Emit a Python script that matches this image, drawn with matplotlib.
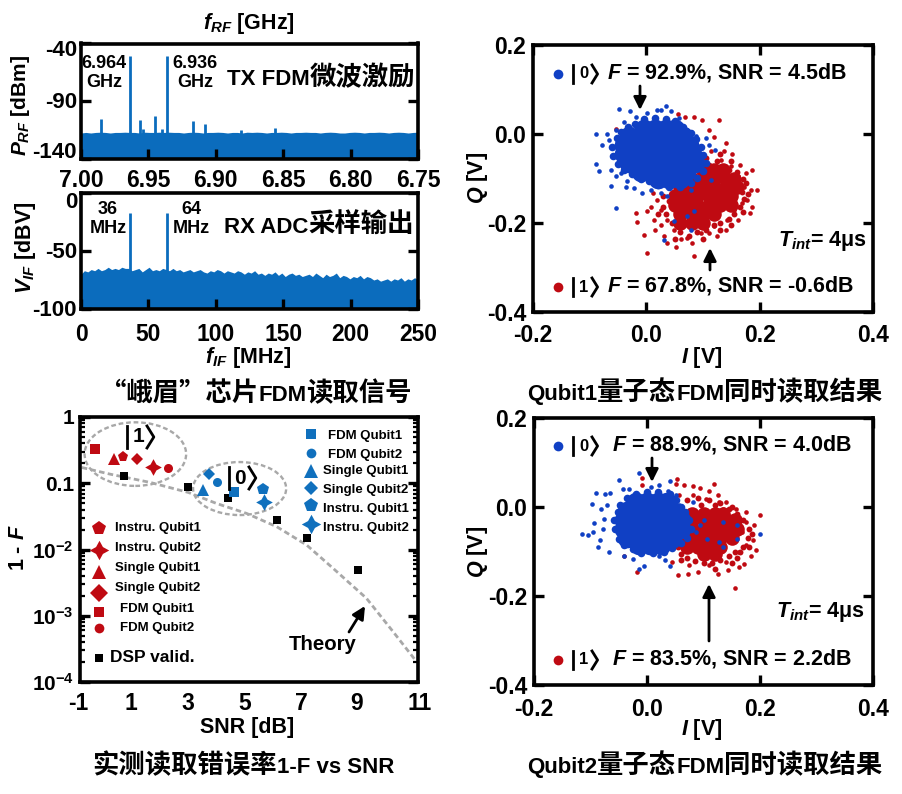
import re
import numpy as np
import matplotlib
matplotlib.use('Agg')
import matplotlib.pyplot as plt
from matplotlib.lines import Line2D
from matplotlib.patches import Ellipse, FancyArrowPatch
from matplotlib.ticker import FixedLocator, LogLocator, NullFormatter

plt.rcParams['font.family'] = ['Liberation Sans', 'Noto Sans CJK SC', 'DejaVu Sans']
plt.rcParams['font.weight'] = 'bold'
plt.rcParams['axes.unicode_minus'] = False
plt.rcParams['mathtext.fontset'] = 'custom'
plt.rcParams['mathtext.rm'] = 'Liberation Sans:bold'
plt.rcParams['mathtext.it'] = 'Liberation Sans:italic:bold'
plt.rcParams['mathtext.bf'] = 'Liberation Sans:bold'

W, H = 902, 794
SPEC = '#0b6cbd'
RED = '#bf0a12'
BLUE = '#1040c4'
LEG_BLUE = '#1070bd'

# spectrum, TX
rf_peak_f = [6.985, 6.964, 6.956, 6.954, 6.945, 6.940, 6.936, 6.917, 6.908, 6.881, 6.856]
rf_peak_p = [-105.5, -51, -106, -114, -103, -114, -51, -107, -110, -115, -113]
rf_floor = [-117.5, -117, -117.5, -117, -116.8, -117, -117.5, -117, -117, -116.8, -117, -117, -117.5, -116.8,
            -117, -117, -116.8, -117, -116.8, -117, -117, -117.5, -117, -116.8, -117, -117.5, -117, -117,
            -116.8, -117, -117.5, -117, -117, -117.5, -116.8, -117, -116.8, -117, -117.5, -117, -117, -116.8,
            -117, -117.5, -117, -117, -116.8, -117, -117, -117.5, -117, -116.8, -117, -117.5, -117.5, -117,
            -116.8, -117, -117.5, -117, -117, -116.8, -117, -117.5, -117, -116.8, -117, -117.5, -117, -116.8]
# spectrum, RX
if_peak_f = [36, 64]
if_peak_v = [-17, -17]
if_floor = [-70, -67, -68, -66, -67, -65, -67, -66, -64, -66, -65, -66, -64, -65, -65, -67, -66,
            -65, -68, -66, -64, -67, -66, -67, -65, -66, -67, -65, -67, -66, -68, -67, -66, -68,
            -67, -66, -68, -69, -67, -68, -66, -67, -69, -67, -68, -69, -67, -68, -70, -68, -69,
            -67, -70, -69, -71, -69, -70, -68, -71, -69, -72, -70, -69, -71, -70, -72, -71, -70,
            -72, -69, -71, -73, -70, -72, -71, -69, -73, -71, -72, -74, -72, -73, -71, -74, -72,
            -73, -75, -74, -76, -75, -74, -76, -74, -75, -73, -76, -74, -75, -73, -75]

# error rate vs SNR
theory_snr = [-0.92, 0.09, 1.5, 2.86, 3.86, 4.92, 5.99, 7.05, 7.99, 9.17, 10.11, 10.94]
theory_err = [0.173, 0.137, 0.103, 0.0726, 0.0495, 0.0351, 0.0221, 0.0117, 0.0052, 0.00184, 0.00058, 0.000205]
dsp_snr = [0.58, 2.86, 4.26, 6.0, 7.05, 8.86]
dsp_err = [0.129, 0.087, 0.0596, 0.0275, 0.0147, 0.0049]
series_names = ['Instru. Qubit1', 'Instru. Qubit2', 'Single Qubit1', 'Single Qubit2', 'FDM Qubit1', 'FDM Qubit2']
series_markers = ['p', (4, 1, 0), '^', 'D', 's', 'o']
state1_snr = [0.53, 1.62, 0.23, 1.04, -0.46, 2.15]
state1_err = [0.25, 0.177, 0.23, 0.236, 0.333, 0.171]
state0_snr = [5.5, 5.55, 3.37, 3.59, 4.49, 3.88]
state0_err = [0.0824, 0.0525, 0.078, 0.137, 0.0726, 0.106]

# Qubit1 IQ
q1_blue_core_i = [-.005, .015, .035, .05, -.03, -.01, .01, .03, .05, .065, -.04, -.02, 0, .02, .04, .06, .075,
                  -.04, -.02, 0, .02, .04, .06, .08, -.03, -.01, .01, .03, .05, .07, .085, -.01, .01, .03, .05, .07, .02, .04, .06]
q1_blue_core_q = [.012, .012, .012, .012, -.005, -.005, -.005, -.005, -.005, -.005, -.025, -.025, -.025, -.025, -.025, -.025, -.025,
                  -.045, -.045, -.045, -.045, -.045, -.045, -.045, -.065, -.065, -.065, -.065, -.065, -.065, -.065, -.085, -.085, -.085, -.085, -.085, -.1, -.1, -.1]
q1_blue_edge_i = [-.02, -.005, .015, .035, .05, .065, .078, .088, .096, .1, .105, .1, .09, .078, .06, .04, .02, .005, -.01, -.025,
                  -.04, -.05, -.058, -.06, -.052, -.045, -.032]
q1_blue_edge_q = [.022, .033, .036, .034, .03, .015, .002, -.012, -.03, -.048, -.065, -.083, -.098, -.11, -.12, -.118, -.115, -.105, -.1, -.09,
                  -.08, -.068, -.05, -.03, -.01, .005, .015]
q1_red_core_i = [.1, .12, .135, .08, .1, .12, .14, .155, .06, .08, .1, .12, .14, .16, .05, .07, .09, .11, .13, .15,
                 .05, .07, .09, .11, .13, .15, .06, .08, .1, .12, .06, .08, .1]
q1_red_core_q = [-.08, -.08, -.08, -.1, -.1, -.1, -.1, -.1, -.12, -.12, -.12, -.12, -.12, -.12, -.14, -.14, -.14, -.14, -.14, -.14,
                 -.16, -.16, -.16, -.16, -.16, -.16, -.18, -.18, -.18, -.18, -.2, -.2, -.2]
q1_red_edge_i = [.06, .07, .085, .105, .125, .145, .16, .17, .175, .168, .172, .165, .155, .145, .13, .12, .105, .09, .075, .06, .045,
                 .035, .03, .04, .03, .02, .05, .1, .13, .15, .17, .18, .15, .13, .11]
q1_red_edge_q = [-.09, -.075, -.06, -.055, -.06, -.08, -.085, -.1, -.11, -.13, -.145, -.165, -.18, -.19, -.2, -.205, -.215, -.22, -.23, -.22, -.2,
                 -.18, -.165, -.15, -.14, -.18, -.235, -.235, -.215, -.205, -.175, -.135, -.06, -.045, -.07]
q1_blue_i = [-.088, -.069, -.048, -.028, .035, .018, .043, -.078, -.088, -.084, -.063, -.053, -.034, -.022, -.007, -.06, -.066,
             -.054, -.039, -.019, .002, .025, .058, .072, .087, .105, .122, .111, .102, -.063, -.054, -.045, -.036, .032, .078,
             .049, .084, .072, .078, .114, .008, .025, .037, .061, .072, .084]
q1_blue_q = [.001, 0, .056, .051, .062, .053, .051, -.024, -.067, -.084, -.116, -.166, -.106, -.121, -.133, -.028, -.013,
             .01, .028, .038, .047, .055, .036, .01, -.005, -.01, -.035, -.024, -.065, -.08, -.095, -.088, -.118, -.239, -.215,
             -.196, -.174, -.185, -.125, -.103, -.125, -.133, -.14, -.11, -.095, -.08]
q1_red_i = [-.054, .055, .068, .084, .098, .111, .128, .119, .14, .137, .152, .114, .166, .187, .175, .196, .184, .178, .187, .183,
            .161, .14, .125, .111, .084, .081, .052, .037, .002, -.004, -.016, -.019, .002, .014, .016, .025, .031, .061, .072, .096,
            .119, .143, .155, .169, .172, .161, .149, .131, .011, .019, .008, .025, .037, .049]
q1_red_q = [.011, .046, .038, .038, .032, .01, .031, -.007, -.02, -.039, -.046, -.039, -.069, -.08, -.088, -.125, -.125, -.148, -.163, -.178,
            -.193, -.215, -.23, -.222, -.275, -.245, -.254, -.245, -.267, -.228, -.198, -.178, -.174, -.193, -.215, -.204, -.23, -.237, -.234, -.222,
            -.207, -.193, -.17, -.155, -.118, -.095, -.073, -.058, -.133, -.148, -.163, -.17, -.193, -.215]

# Qubit2 IQ
q2_blue_core_i = [-.02, 0, .02, .035, -.035, -.015, .005, .025, .045, -.04, -.02, 0, .02, .04, .06,
                  -.04, -.02, 0, .02, .04, .06, -.035, -.015, .005, .025, .045, -.015, .005, .025]
q2_blue_core_q = [.012, .012, .012, .012, -.01, -.01, -.01, -.01, -.01, -.03, -.03, -.03, -.03, -.03, -.03,
                  -.05, -.05, -.05, -.05, -.05, -.05, -.07, -.07, -.07, -.07, -.07, -.085, -.085, -.085]
q2_blue_edge_i = [-.035, -.02, 0, .02, .04, .052, .06, .068, .075, .078, .07, .06, .045, .03, .01, -.01, -.025, -.04, -.05, -.056, -.058, -.052, -.048]
q2_blue_edge_q = [.02, .03, .034, .034, .03, .015, 0, -.012, -.03, -.05, -.07, -.08, -.092, -.1, -.104, -.103, -.095, -.085, -.072, -.05, -.03, -.012, .005]
q2_red_core_i = [.08, .1, .12, .135, .08, .1, .12, .14, .155, .08, .1, .12, .14, .16, .07, .09, .11, .13, .15, .07, .09, .11, .13, .1, .12]
q2_red_core_q = [-.015, -.015, -.015, -.015, -.03, -.03, -.03, -.03, -.03, -.05, -.05, -.05, -.05, -.05,
                 -.07, -.07, -.07, -.07, -.07, -.09, -.09, -.09, -.09, -.105, -.105]
q2_red_edge_i = [.07, .09, .11, .13, .145, .16, .17, .18, .178, .17, .155, .145, .13, .115, .1, .085, .07, .06, .055, .165, .18, .15, .095, .12, .15, .165, .06, .12, .16, .185]
q2_red_edge_q = [.015, .02, .015, .01, -.005, -.015, -.03, -.05, -.07, -.09, -.1, -.11, -.12, -.125, -.125, -.122, -.115, -.105, -.09, -.1, -.09, -.125, .005, .005, 0, -.045, -.12, -.14, -.115, -.06]
q2_blue_i = [-.115, -.105, -.096, -.091, -.098, -.087, -.081, -.074, -.065, -.094, -.084, -.067, -.078, -.076, -.07, -.049, -.015, -.031,
             -.043, -.014, -.005, -.025, -.04, .04, .021, .007, .037, .051, .04, .031, .022, .2, .16, .134, .093, .087, .101, .107, .134,
             .069, .057, .081, .045, .063, .051, .128, .16]
q2_blue_q = [-.06, -.062, -.056, .032, .007, -.091, -.004, .03, .032, -.037, -.075, -.101, -.049, -.026, .004, .06, .076, .041,
             .041, -.139, -.133, -.116, -.109, .058, .049, .045, .037, .026, -.133, -.12, -.109, -.06, -.04, -.034, -.041, -.056, -.03, -.071, -.09,
             -.019, .004, .011, .019, -.064, -.086, -.079, -.071]
q2_red_i = [-.008, -.009, .053, .051, .066, .081, .093, .119, .11, .125, .14, .158, .175, .2, .19, .175, .187, .193, .184, .172, .163, .143,
            .125, .09, .073, .055, -.018, .155, -.04, .045, .075, .11, .14, .163, .175, .169, .158, .134, .104, .081, .057, .128]
q2_red_q = [.065, .05, .062, .052, .049, .047, .043, .052, .037, .026, .011, -.004, -.011, -.017, -.041, -.034, -.075, -.097, -.109, -.127, -.135, -.142,
            -.15, -.145, -.151, -.152, -.146, -.181, -.11, -.124, -.131, -.131, -.124, -.101, -.086, -.056, -.026, -.004, .019, .026, .026, .011]


def fx(x):
    return x / W


def fy(y):
    return 1 - y / H


def new_axes(l, t, r, b):
    ax = fig.add_axes([fx(l), fy(b), (r - l) / W, (b - t) / H])
    for s in ax.spines.values():
        s.set_linewidth(2.6)
    ax.tick_params(which='major', direction='in', length=7, width=2.4, labelsize=16.5)
    ax.tick_params(axis='y', left=True, right=True, pad=5)
    return ax


def put(x, y, s, size=15.5, **kw):
    kw.setdefault('ha', 'center')
    kw.setdefault('va', 'center')
    return fig.text(fx(x), fy(y), s, fontsize=size, **kw)


def mixed(x, y, s):
    # chinese runs are set bigger than the latin runs
    r = fig.canvas.get_renderer()
    for part in re.split('([\u4e00-\u9fff\u201c\u201d]+)', s):
        if not part:
            continue
        cjk = re.match('[\u4e00-\u9fff\u201c\u201d]', part) is not None
        t = put(x, y, part, size=19 if cjk else 16, ha='left', va='baseline',
                family='Noto Sans CJK SC' if cjk else 'Liberation Sans')
        x += t.get_window_extent(r).width


def ket(xb, xd, xa, y, h, digit, size):
    fig.add_artist(Line2D([fx(xb), fx(xb)], [fy(y - h), fy(y + h)], color='k', lw=2, transform=fig.transFigure))
    put(xd, y, digit, size=size)
    w = h * 0.62
    fig.add_artist(Line2D([fx(xa), fx(xa + w), fx(xa)], [fy(y - h), fy(y), fy(y + h)], color='k', lw=2,
                          transform=fig.transFigure))


def arrow(x0, y0, x1, y1):
    fig.add_artist(FancyArrowPatch((fx(x0), fy(y0)), (fx(x1), fy(y1)), transform=fig.transFigure,
                                   arrowstyle='-|>', mutation_scale=19, lw=2, color='k', shrinkA=0, shrinkB=0))


def dot(x, y, marker, color, ms):
    fig.add_artist(Line2D([fx(x)], [fy(y)], marker=marker, color=color, ms=ms, mew=0, ls='none',
                          transform=fig.transFigure))


fig = plt.figure(figsize=(W / 100, H / 100), dpi=100)

# TX spectrum
ax1 = new_axes(81, 43.5, 418, 159)
ax1.fill_between(np.linspace(7.0, 6.75, len(rf_floor)), rf_floor, -140, color=SPEC, lw=0)
ax1.vlines(rf_peak_f, -140, rf_peak_p, color=SPEC, lw=2)
ax1.set_xlim(7.0, 6.75)
ax1.set_ylim(-140, -40)
ax1.set_xticks([7.0, 6.95, 6.9, 6.85, 6.8, 6.75])
ax1.set_xticklabels(['7.00', '6.95', '6.90', '6.85', '6.80', '6.75'])
ax1.set_yticks([-140, -90, -40])
ax1.tick_params(axis='x', pad=7)
ax1.tick_params(axis='y', labelleft=False)
for lab, y in zip(['-40', '-90', '-140'], [50, 102, 153]):
    put(77, y, lab, size=16, ha='right')

# RX spectrum
ax2 = new_axes(81, 193, 418, 309)
ax2.fill_between(np.linspace(0, 250, len(if_floor)), if_floor, -100, color=SPEC, lw=0)
ax2.vlines(if_peak_f, -100, if_peak_v, color=SPEC, lw=2)
ax2.set_xlim(0, 250)
ax2.set_ylim(-100, 0)
ax2.set_xticks([0, 50, 100, 150, 200, 250])
ax2.set_yticks([-100, -50, 0])
ax2.tick_params(axis='x', pad=10)
ax2.tick_params(axis='y', labelleft=False)
for lab, y in zip(['0', '-50', '-100'], [203, 252, 310]):
    put(77, y, lab, size=16, ha='right')

# error rate
ax3 = new_axes(79.5, 417, 418, 682)
ax3.set_yscale('log')
ax3.set_xlim(-1, 11)
ax3.set_ylim(1e-4, 1)
ax3.plot(theory_snr, theory_err, color='#a8a8a8', lw=2, ls=(0, (2, 1.2)))
ax3.plot(dsp_snr, dsp_err, 's', color='k', ms=6, mew=0, ls='none')
red_ms = [8, 12, 8, 6, 6.5, 6.5]
blue_ms = [9, 12, 8, 6, 6.5, 6.5]
for i, m in enumerate(series_markers):
    ax3.plot(state1_snr[i], state1_err[i], marker=m, color=RED, ms=red_ms[i], mew=0, ls='none')
    ax3.plot(state0_snr[i], state0_err[i], marker=m, color=LEG_BLUE, ms=blue_ms[i], mew=0, ls='none')
ax3.set_xticks([-1, 1, 3, 5, 7, 9, 11])
ax3.yaxis.set_major_locator(FixedLocator([1e-4, 1e-3, 1e-2, 0.1, 1]))
ax3.set_yticklabels(['$10^{-4}$', '$10^{-3}$', '$10^{-2}$', '0.1', '1'])
ax3.yaxis.set_minor_locator(LogLocator(base=10, subs=np.arange(2, 10), numticks=12))
ax3.yaxis.set_minor_formatter(NullFormatter())
ax3.tick_params(axis='y', which='major', labelsize=15, pad=4)
ax3.tick_params(axis='y', which='minor', direction='in', length=3.5, width=1.6, left=True, right=True)
ax3.tick_params(axis='x', length=0, labelbottom=False)
for lab, x in zip(['-1', '1', '3', '5', '7', '9', '11'], [78, 131, 188, 245, 301, 357, 420]):
    put(x, 703, lab, size=16.5)
for e in [(0.165, 0.86, 0.30, 0.24), (0.473, 0.73, 0.275, 0.20)]:
    ax3.add_patch(Ellipse(e[:2], e[2], e[3], transform=ax3.transAxes, fill=False, ec='#a8a8a8', lw=1.7,
                          ls=(0, (2, 1.2)), clip_on=False))

# Qubit1 IQ
ax4 = new_axes(533, 45, 873, 312)
ax4.scatter(q1_red_core_i, q1_red_core_q, s=110, color=RED, lw=0)
ax4.scatter(q1_red_edge_i, q1_red_edge_q, s=18, color=RED, lw=0)
ax4.scatter(q1_red_i, q1_red_q, s=11, color=RED, lw=0)
ax4.scatter(q1_blue_core_i, q1_blue_core_q, s=200, color=BLUE, lw=0)
ax4.scatter(q1_blue_edge_i, q1_blue_edge_q, s=30, color=BLUE, lw=0)
ax4.scatter(q1_blue_i, q1_blue_q, s=11, color=BLUE, lw=0)

# Qubit2 IQ
ax5 = new_axes(534, 418, 873, 685)
ax5.scatter(q2_red_core_i, q2_red_core_q, s=110, color=RED, lw=0)
ax5.scatter(q2_red_edge_i, q2_red_edge_q, s=18, color=RED, lw=0)
ax5.scatter(q2_red_i, q2_red_q, s=11, color=RED, lw=0)
ax5.scatter(q2_blue_core_i, q2_blue_core_q, s=200, color=BLUE, lw=0)
ax5.scatter(q2_blue_edge_i, q2_blue_edge_q, s=30, color=BLUE, lw=0)
ax5.scatter(q2_blue_i, q2_blue_q, s=11, color=BLUE, lw=0)

for ax in [ax4, ax5]:
    ax.set_xlim(-0.2, 0.4)
    ax.set_ylim(-0.4, 0.2)
    ax.set_xticks([-0.2, 0.0, 0.2, 0.4])
    ax.set_xticklabels(['-0.2', '0.0', '0.2', '0.4'])
    ax.set_yticks([-0.4, -0.2, 0.0, 0.2])
    ax.set_yticklabels(['-0.4', '-0.2', '0.0', '0.2'])
    ax.tick_params(axis='x', top=True, pad=9)

# axis labels
put(249, 24, '$f_{RF}$ [GHz]', size=15.5)
put(21, 106, '$P_{RF}$ [dBm]', size=15, rotation=90)
put(25, 248, '$V_{IF}$ [dBV]', size=15.5, rotation=90)
put(248, 358, '$f_{IF}$ [MHz]', size=15.5)
put(18, 548, '1 - $F$', size=15.5, rotation=90)
put(247, 728, 'SNR [dB]', size=15.5)
put(478, 178, '$Q$ [V]', size=15.5, rotation=90)
put(702, 357, '$I$ [V]', size=15.5)
put(478, 552, '$Q$ [V]', size=15.5, rotation=90)
put(702, 730, '$I$ [V]', size=15.5)

# panel titles
mixed(227, 85, 'TX FDM微波激励')
mixed(224, 233, 'RX ADC采样输出')
mixed(100, 401, '“峨眉”芯片FDM读取信号')
mixed(92, 773, '实测读取错误率1-F vs SNR')
mixed(527, 400, 'Qubit1量子态FDM同时读取结果')
mixed(527, 773, 'Qubit2量子态FDM同时读取结果')

# peak notes
put(104, 73, '6.964\nGHz', size=13, linespacing=1.15)
put(195, 73, '6.936\nGHz', size=13, linespacing=1.15)
put(108, 219, '36\nMHz', size=13, linespacing=1.15)
put(191, 219, '64\nMHz', size=13, linespacing=1.15)

# Qubit1 notes
dot(558, 74, 'o', BLUE, 7)
ket(573, 584, 592, 74, 9, '0', 12)
put(607, 73, '$F$ = 92.9%, SNR = 4.5dB', ha='left')
dot(558, 287, 'o', RED, 7)
ket(573, 584, 592, 287, 9, '1', 12)
put(607, 286, '$F$ = 67.8%, SNR = -0.6dB', ha='left')
put(778, 241, '$T_{int}$= 4μs', ha='left')
arrow(640, 86, 640, 110)
arrow(710, 270, 710, 248)

# Qubit2 notes
dot(558, 446, 'o', BLUE, 7)
ket(573, 584, 592, 446, 9, '0', 12)
put(612, 445, '$F$ = 88.9%, SNR = 4.0dB', ha='left')
dot(558, 660, 'o', RED, 7)
ket(573, 584, 592, 660, 9, '1', 12)
put(612, 659, '$F$ = 83.5%, SNR = 2.2dB', ha='left')
put(776, 612, '$T_{int}$= 4μs', ha='left')
arrow(652, 458, 652, 482)
arrow(709, 641, 709, 584)

# legends of the error rate panel
red_y = [528, 550, 572, 593, 612, 628]
red_ty = [528, 548, 568, 588, 609, 628]
blue_y = [505, 524, 471, 488, 434, 453]
blue_ty = [509, 528, 471, 490, 436, 455]
leg_red_ms = [10.5, 14, 10.5, 9, 7.5, 7]
leg_blue_ms = [10.5, 14, 10, 7, 7.5, 7]
for i, name in enumerate(series_names):
    dot(99, red_y[i], series_markers[i], RED, leg_red_ms[i])
    put(119.5 if i >= 4 else 115, red_ty[i], name, size=9.5, ha='left')
    dot(311, blue_y[i], series_markers[i], LEG_BLUE, leg_blue_ms[i])
    put(328 if i >= 4 else 323, blue_ty[i], name, size=9.5, ha='left')
dot(99, 658, 's', 'k', 6)
put(110.5, 658, 'DSP valid.', size=12.5, ha='left')
put(323, 645, 'Theory', size=14.7)
arrow(349, 632, 365, 606)
ket(127, 138, 147, 437, 11, '1', 15)
ket(229, 240, 249, 478, 11, '0', 15)

fig.savefig('out.png', dpi=100)
